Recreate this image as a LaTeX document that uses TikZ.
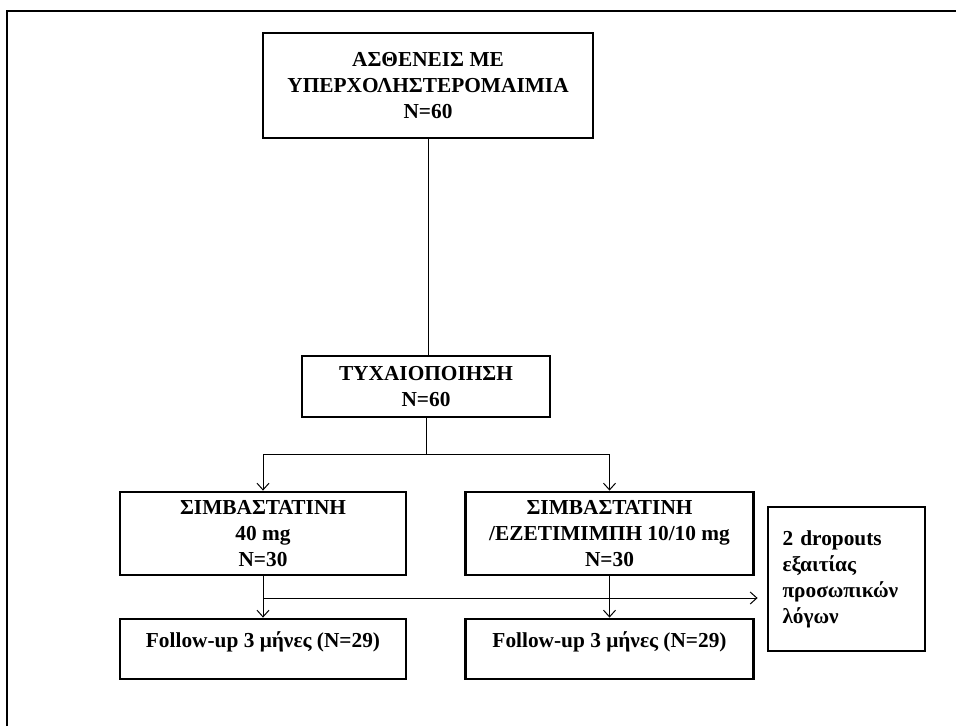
\documentclass[tikz,border=0pt]{standalone}
\usepackage{fontspec}
\setmainfont{Liberation Serif}
\usetikzlibrary{arrows.meta}

\tikzset{
  box/.style={draw, line width=2.1pt, font=\bfseries\fontsize{16}{19.5}\selectfont, inner sep=0pt},
  link/.style={line width=0.75pt},
  arr/.style={link, -{Straight Barb[length=5pt,width=9pt]}},
}

\begin{document}
\begin{tikzpicture}[x=0.75pt,y=-0.75pt]
    \useasboundingbox (0,0) rectangle (956,726);
    % outer frame
    \draw[line width=2pt] (7,726) -- (7,11) -- (956,11);

    \node[box, align=center, minimum width=247.5pt, minimum height=78.75pt] (patients) at (428,85.5) {ΑΣΘΕΝΕΙΣ ΜΕ\\ΥΠΕΡΧΟΛΗΣΤΕΡΟΜΑΙΜΙΑ\\N=60};
    \node[box, align=center, minimum width=186pt, minimum height=45.75pt] (random) at (426,386.5) {ΤΥΧΑΙΟΠΟΙΗΣΗ\\N=60};
    \node[box, align=center, minimum width=214.5pt, minimum height=62.25pt] (simva) at (263,533.5) {ΣΙΜΒΑΣΤΑΤΙΝΗ\\40 mg\\N=30};
    \node[box, align=center, minimum width=216pt, minimum height=62.25pt] (combo) at (609.5,533.5) {ΣΙΜΒΑΣΤΑΤΙΝΗ\\/ΕΖΕΤΙΜΙΜΠΗ 10/10 mg\\N=30};
    \node[box, minimum width=214.5pt, text height=21pt, text depth=24pt] (followA) at (263,649) {Follow-up 3 μήνες (N=29)};
    \node[box, minimum width=216pt, text height=21pt, text depth=24pt] (followB) at (609.5,649) {Follow-up 3 μήνες (N=29)};
    \node[box, align=left, text width=96pt, minimum width=117.75pt, minimum height=108pt] (dropout) at (846.5,579) {2 dropouts\\εξαιτίας\\προσωπικών\\λόγων};

    % connectors
    \coordinate (split) at (426,454);
    \coordinate (branch) at (263,598);
    \draw[link] (patients.south) -- (patients.south |- random.north);
    \draw[link] (random.south) -- (split);
    \draw[link] (simva.north |- split) -- (combo.north |- split);
    \draw[arr] (simva.north |- split) -- (simva.north);
    \draw[arr] (combo.north |- split) -- (combo.north);
    \draw[arr] (simva.south) -- (followA.north);
    \draw[arr] (combo.south) -- (followB.north);
    \draw[arr, shorten >=6.75pt] (branch) -- (branch -| dropout.west);
\end{tikzpicture}
\end{document}
